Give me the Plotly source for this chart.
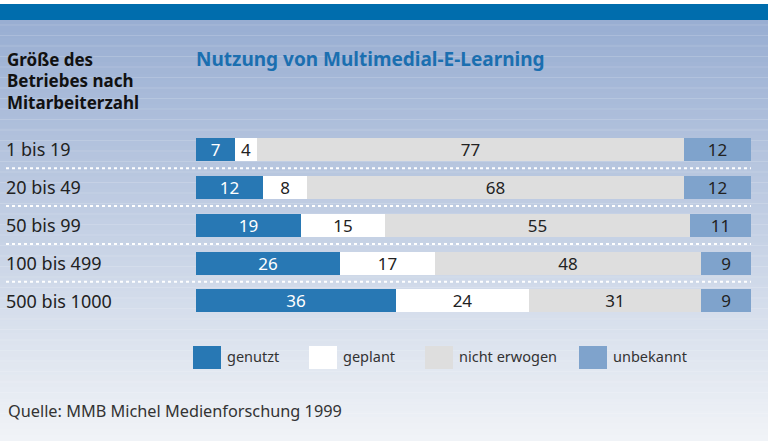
import plotly.graph_objects as go

# ---------------- data ----------------
groups = ["1 bis 19", "20 bis 49", "50 bis 99", "100 bis 499", "500 bis 1000"]
series_names = ["genutzt", "geplant", "nicht erwogen", "unbekannt"]
genutzt = [7, 12, 19, 26, 36]
geplant = [4, 8, 15, 17, 24]
nicht_erwogen = [77, 68, 55, 48, 31]
unbekannt = [12, 12, 11, 9, 9]
title_text = "Nutzung von Multimedial-E-Learning"
header_lines = ["Größe des", "Betriebes nach", "Mitarbeiterzahl"]
source_text = "Quelle: MMB Michel Medienforschung 1999"

# ---------------- style ----------------
W, H = 768, 441
FONT = "Noto Sans"
colors = ["#2878B4", "#FFFFFF", "#DEDEDE", "#7FA3CC"]
text_colors = ["#FFFFFF", "#222222", "#222222", "#222222"]
series_values = [genutzt, geplant, nicht_erwogen, unbekannt]

def py(px):
    return 1 - px / H

def pxx(px):
    return px / W

fig = go.Figure()
for name, vals, col, tcol in zip(series_names, series_values, colors, text_colors):
    fig.add_trace(go.Bar(
        y=groups, x=vals, name=name, orientation="h",
        marker=dict(color=col, line=dict(width=0)),
        width=0.61,
        text=[str(v) for v in vals],
        textposition="inside", insidetextanchor="middle",
        textangle=0, constraintext="none",
        textfont=dict(family=FONT, size=17, color=tcol),
        showlegend=False, hoverinfo="skip",
    ))

shapes = []
# background gradient
y0, y1 = 20, H
c_top = (152, 174, 210)
c_bot = (241, 243, 247)
n = 70
for i in range(n):
    a = y0 + (y1 - y0) * i / n
    b = y0 + (y1 - y0) * (i + 1) / n
    t = (i + 0.5) / n
    c = tuple(int(round(c_top[k] + (c_bot[k] - c_top[k]) * t)) for k in range(3))
    shapes.append(dict(type="rect", xref="paper", yref="paper", x0=0, x1=1,
                       y0=py(b) - 0.002, y1=py(a), fillcolor="rgb(%d,%d,%d)" % c,
                       line=dict(width=0), layer="below"))
# subtle stripes
sy = 25
while sy < 420:
    shapes.append(dict(type="line", xref="paper", yref="paper", x0=0, x1=1,
                       y0=py(sy), y1=py(sy), line=dict(color="rgba(255,255,255,0.16)", width=1),
                       layer="below"))
    sy += 10.5
# white top strip and blue band
shapes.append(dict(type="rect", xref="paper", yref="paper", x0=0, x1=1, y0=py(4), y1=1,
                   fillcolor="#FFFFFF", line=dict(width=0), layer="below"))
shapes.append(dict(type="rect", xref="paper", yref="paper", x0=0, x1=1, y0=py(20), y1=py(4),
                   fillcolor="#006DAD", line=dict(width=0), layer="below"))
# dotted separators
for k in range(len(groups) - 1):
    shapes.append(dict(type="line", xref="paper", yref="y", x0=pxx(6), x1=pxx(751),
                       y0=k + 0.5, y1=k + 0.5, line=dict(color="white", width=2, dash="dot")))
shapes.append(dict(type="line", xref="paper", yref="y", x0=pxx(6), x1=pxx(751),
                   y0=len(groups) - 0.44, y1=len(groups) - 0.44, line=dict(color="white", width=1.5)))

annotations = []
# header lines
for txt, yc in zip(header_lines, [59.5, 81, 102.5]):
    annotations.append(dict(text="<b>%s</b>" % txt, xref="paper", yref="paper", x=pxx(5), y=py(yc),
                            xanchor="left", yanchor="middle", showarrow=False,
                            font=dict(family=FONT, size=17, color="#111111")))
annotations.append(dict(text="<b>%s</b>" % title_text, xref="paper", yref="paper", x=pxx(194), y=py(59.5),
                        xanchor="left", yanchor="middle", showarrow=False,
                        font=dict(family=FONT, size=19, color="#1B6FB0")))
# row labels
for g in groups:
    annotations.append(dict(text=g, xref="paper", yref="y", x=pxx(4), y=g,
                            xanchor="left", yanchor="middle", showarrow=False,
                            font=dict(family=FONT, size=18, color="#222222")))
# legend (manual)
leg_x = [193, 309, 425, 579]
for name, col, lx in zip(series_names, colors, leg_x):
    shapes.append(dict(type="rect", xref="paper", yref="paper", x0=pxx(lx), x1=pxx(lx + 28),
                       y0=py(369), y1=py(346), fillcolor=col, line=dict(width=0)))
    annotations.append(dict(text=name, xref="paper", yref="paper", x=pxx(lx + 32), y=py(356),
                            xanchor="left", yanchor="middle", showarrow=False,
                            font=dict(family=FONT, size=14.5, color="#333333")))
annotations.append(dict(text=source_text, xref="paper", yref="paper", x=pxx(6), y=py(411),
                        xanchor="left", yanchor="middle", showarrow=False,
                        font=dict(family=FONT, size=16.3, color="#333333")))

fig.update_layout(
    width=W, height=H, margin=dict(l=0, r=0, t=0, b=0),
    paper_bgcolor="white", plot_bgcolor="rgba(0,0,0,0)",
    barmode="stack", bargap=0,
    xaxis=dict(range=[0, 100], domain=[pxx(196), pxx(751)], visible=False, fixedrange=True),
    yaxis=dict(categoryorder="array", categoryarray=groups, range=[len(groups) - 0.5, -0.5],
               domain=[py(319.4), py(130.6)], visible=False, fixedrange=True),
    shapes=shapes, annotations=annotations,
    showlegend=False,
)

fig.write_html("out.html", config={"displayModeBar": False},
               post_script="document.body.style.margin='0';document.body.style.padding='0';")
